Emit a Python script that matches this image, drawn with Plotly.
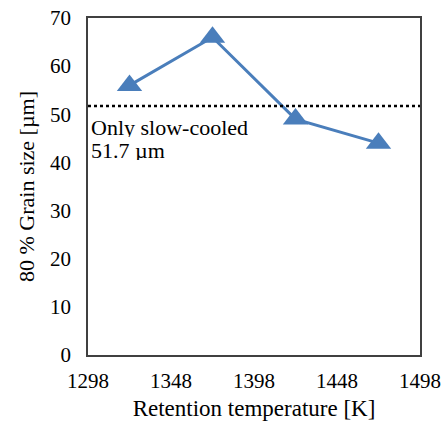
import plotly.graph_objects as go

temps = [1323, 1373, 1423, 1473]
grain_size = [56, 66, 49, 44]
slow_cooled = 51.7
x_ticks = [1298, 1348, 1398, 1448, 1498]
y_ticks = [0, 10, 20, 30, 40, 50, 60, 70]
note_lines = ["Only slow-cooled", "51.7 µm"]

font = "Liberation Serif"
blue = "#4a7ebb"
tf = dict(family=font, size=21, color="black")

fig = go.Figure()
fig.add_trace(go.Scatter(
    x=temps, y=grain_size, mode="lines+markers",
    line=dict(color=blue, width=3),
    marker=dict(symbol="triangle-up", size=22, color=blue),
    showlegend=False, cliponaxis=False, hoverinfo="skip",
))
fig.add_shape(type="line", xref="paper", x0=0, x1=1, yref="y", y0=slow_cooled, y1=slow_cooled,
              line=dict(color="black", width=2.5, dash="dot"))
for txt, yv in zip(note_lines, [47.3, 42.6]):
    fig.add_annotation(xref="paper", x=0.005, yref="y", y=yv, xanchor="left", yanchor="middle",
                       text=txt, showarrow=False, align="left", height=20, borderpad=0,
                       valign="middle",
                       font=dict(family=font, size=22, color="black"))

fig.update_layout(
    width=445, height=427,
    margin=dict(l=88, r=25, t=18, b=72, autoexpand=False),
    paper_bgcolor="white", plot_bgcolor="white",
    font=tf,
)
fig.update_xaxes(range=[1298, 1498], tickvals=x_ticks, ticktext=[str(v) for v in x_ticks],
                 showgrid=False, zeroline=False, showline=True, linecolor="#404040", linewidth=1.5,
                 mirror=True, ticks="outside", ticklen=6, tickcolor="rgba(0,0,0,0)",
                 automargin=False,
                 title=dict(text="Retention temperature [K]", standoff=8,
                            font=dict(family=font, size=23, color="black")),
                 tickfont=tf)
fig.update_yaxes(range=[0, 70], tickvals=y_ticks, showgrid=False, zeroline=False,
                 showline=True, linecolor="#404040", linewidth=1.5, mirror=True,
                 ticks="outside", ticklen=11, tickcolor="rgba(0,0,0,0)", automargin=False,
                 title=dict(text="80 % Grain size [µm]", standoff=9,
                            font=dict(family=font, size=22, color="black")),
                 tickfont=tf)

fig.write_html("out.html", post_script="document.body.style.margin='0';",
               config={"displayModeBar": False})
